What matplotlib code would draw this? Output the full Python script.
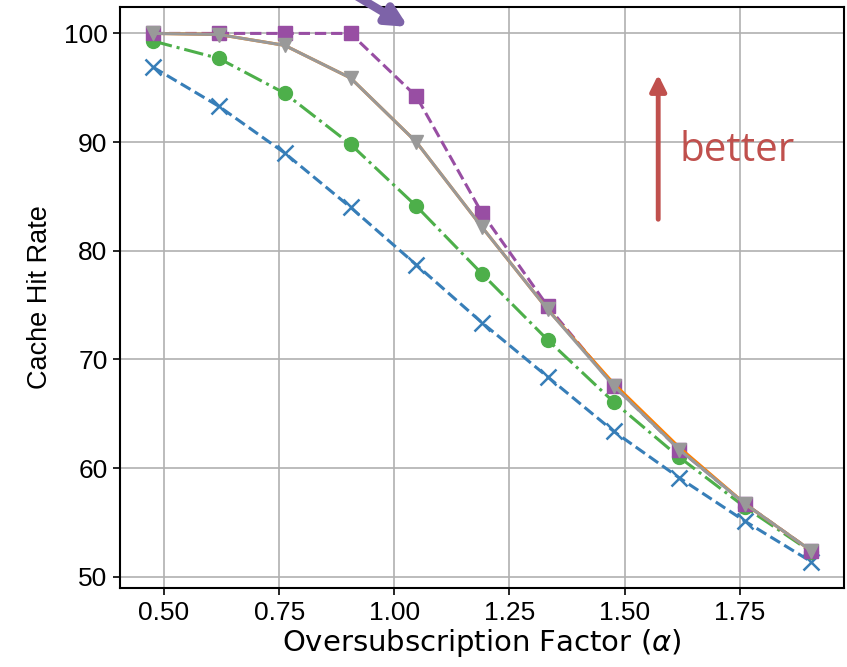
import matplotlib
matplotlib.use("Agg")
import matplotlib.pyplot as plt

# Oversubscription factor values
alpha = [0.476, 0.619, 0.762, 0.905, 1.048, 1.190, 1.333, 1.476, 1.619, 1.762, 1.905]

blue_x = [96.9, 93.3, 89.0, 84.0, 78.7, 73.4, 68.4, 63.4, 59.1, 55.1, 51.4]
green_o = [99.3, 97.7, 94.5, 89.8, 84.1, 77.9, 71.8, 66.1, 61.0, 56.4, 52.3]
purple_sq = [100.0, 100.0, 100.0, 100.0, 94.2, 83.5, 74.9, 67.6, 61.7, 56.7, 52.4]
orange_line = [100.0, 99.9, 98.9, 95.9, 90.0, 82.2, 74.6, 67.8, 61.9, 56.7, 52.4]
gray_tri = [100.0, 99.9, 98.9, 95.9, 90.0, 82.2, 74.6, 67.6, 61.7, 56.7, 52.4]

fig = plt.figure(figsize=(8.47, 6.67), dpi=100)
ax = fig.add_axes([0.1417, 0.1184, 0.8548, 0.8711])

ax.plot(alpha, blue_x, color="#377eb8", linestyle="--", linewidth=2.2,
        marker="x", markersize=11, markeredgewidth=1.8)
ax.plot(alpha, green_o, color="#4daf4a", linestyle="-.", linewidth=2.2,
        marker="o", markersize=10)
ax.plot(alpha, purple_sq, color="#984ea3", linestyle="--", linewidth=2.2,
        marker="s", markersize=10)
ax.plot(alpha, orange_line, color="#ff7f00", linestyle="-", linewidth=2.2)
ax.plot(alpha, gray_tri, color="#999999", linestyle="-", linewidth=2.2,
        marker="v", markersize=10)

ax.grid(True, color="#b0b0b0", linewidth=1.2)
ax.set_axisbelow(True)
for s in ax.spines.values():
    s.set_linewidth(1.5)
ax.tick_params(direction="out", length=5, width=1.2, pad=4)

tick_font = {"family": "Liberation Sans", "size": 19}
ax.set_xticks([0.5, 0.75, 1.0, 1.25, 1.5, 1.75])
ax.set_xticklabels(["0.50", "0.75", "1.00", "1.25", "1.50", "1.75"], fontdict=tick_font)
ax.set_yticks([50, 60, 70, 80, 90, 100])
ax.set_yticklabels(["50", "60", "70", "80", "90", "100"], fontdict=tick_font)

ax.set_ylabel("Cache Hit Rate", family="Liberation Sans", fontsize=19.5, labelpad=8)
ax.set_xlabel(r"Oversubscription Factor ($\alpha$)", family="DejaVu Sans", fontsize=21, labelpad=2)

# "better" arrow
ax.annotate("", xy=(1.573, 96.2), xytext=(1.573, 82.9),
            arrowprops=dict(arrowstyle="-|>", color="#c0504d", lw=3.5,
                            mutation_scale=24, shrinkA=0, shrinkB=0))
ax.text(1.62, 89.2, "better", color="#c0504d", family="Open Sans", fontsize=29,
        va="center", ha="left")

# purple arrow running in from above the plot
ax.annotate("", xy=(1.03, 100.6), xytext=(0.88, 104.4),
            arrowprops=dict(arrowstyle="-|>", color="#7d63a8", lw=6,
                            mutation_scale=30, shrinkA=0, shrinkB=0),
            annotation_clip=False)

fig.savefig("out.png", dpi=100)
